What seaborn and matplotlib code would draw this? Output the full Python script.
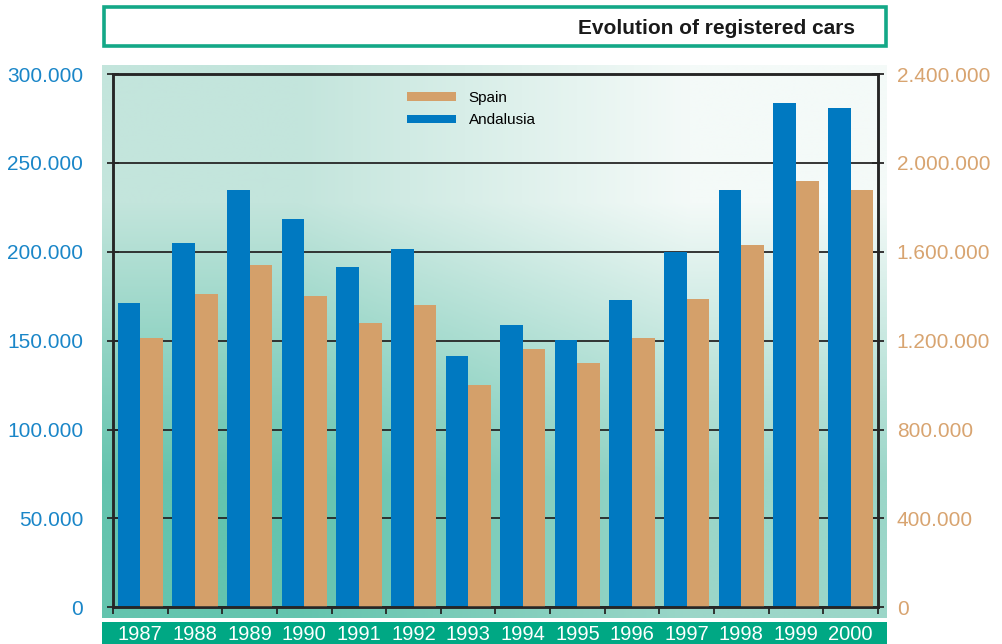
import numpy as np
import pandas as pd
import matplotlib
matplotlib.use("Agg")
import matplotlib.pyplot as plt
import seaborn as sns
from matplotlib.patches import Rectangle, Patch
from matplotlib.ticker import FuncFormatter, FixedLocator

# ---------------- data ----------------
years = ["1987", "1988", "1989", "1990", "1991", "1992", "1993",
         "1994", "1995", "1996", "1997", "1998", "1999", "2000"]
andalusia = [171300, 205100, 234900, 218600, 191300, 201400, 141400,
             158800, 150200, 172700, 199900, 234900, 283500, 281000]
spain = [1210000, 1410000, 1539000, 1399000, 1279000, 1359000, 1000000,
         1161000, 1101000, 1210000, 1389000, 1629000, 1920000, 1879000]
left_ticks = [0, 50000, 100000, 150000, 200000, 250000, 300000]
right_ticks = [0, 400000, 800000, 1200000, 1600000, 2000000, 2400000]
title = "Evolution of registered cars"
series_names = ["Andalusia", "Spain"]

BLUE = "#0079c1"
TAN = "#d4a06a"
BLUE_TXT = "#1a86c8"
TAN_TXT = "#d8a470"
GREEN = "#00a884"
DARK = "#262626"

plt.rcParams["font.family"] = ["Liberation Sans", "DejaVu Sans"]

W, H = 1003, 644
fig = plt.figure(figsize=(W / 100, H / 100), dpi=100)

def fx(px):
    return px / W

def fy(py):
    return 1 - py / H

# gradient background
bg = fig.add_axes([fx(102.3), fy(617.7), fx(886.7 - 102.3), (617.7 - 65) / H], zorder=0)
corners = np.array([
    [[0xc3, 0xe5, 0xdc], [0xf4, 0xfa, 0xf8]],   # top-left, top-right
    [[0x64, 0xc4, 0xae], [0x9b, 0xd6, 0xc8]],   # bottom-left, bottom-right
]) / 255.0
bg.imshow(corners, interpolation="bilinear", aspect="auto", extent=[0, 1, 0, 1])
bg.set_axis_off()

# green band under axis
fig.patches.append(Rectangle((fx(102.3), 0), fx(886.7 - 102.3), (644 - 621.7) / H,
                             transform=fig.transFigure, facecolor=GREEN,
                             edgecolor="none", zorder=0))

# title box
fig.patches.append(Rectangle((fx(104.5), fy(45.5)), fx(885.5 - 104.5), (45.5 - 7) / H,
                             transform=fig.transFigure, facecolor="white",
                             edgecolor="#14a887", linewidth=2.6, zorder=1))
fig.text(fx(855), fy(28.5), title, ha="right", va="center", fontsize=15,
         fontweight="bold", color="#1a1a1a")

# main axes
ax = fig.add_axes([fx(113), fy(607.3), fx(878 - 113), (607.3 - 74) / H], zorder=2)
ax.patch.set_visible(False)

df_a = pd.DataFrame({"year": years, "value": andalusia, "region": "Andalusia"})
df_s = pd.DataFrame({"year": years, "value": spain, "region": "Spain"})
pal = {"Andalusia": BLUE, "Spain": TAN}

sns.barplot(data=df_a, x="year", y="value", hue="region", hue_order=series_names,
            palette=pal, dodge=True, width=0.83, legend=False, ax=ax,
            saturation=1, linewidth=0, zorder=2)
ax2 = ax.twinx()
sns.barplot(data=df_s, x="year", y="value", hue="region", hue_order=series_names,
            palette=pal, dodge=True, width=0.83, legend=False, ax=ax2,
            saturation=1, linewidth=0, zorder=2)

for a in (ax, ax2):
    a.set_xlim(-0.5, len(years) - 0.5)
    a.set_xlabel("")
    a.set_ylabel("")
ax.set_ylim(0, 300000)
ax2.set_ylim(0, 2400000)

fmt = FuncFormatter(lambda v, p: f"{int(round(v)):,}".replace(",", "."))
ax.yaxis.set_major_locator(FixedLocator(left_ticks))
ax.yaxis.set_major_formatter(fmt)
ax2.yaxis.set_major_locator(FixedLocator(right_ticks))
ax2.yaxis.set_major_formatter(fmt)

ax.set_axisbelow(True)
ax.grid(axis="y", color=DARK, linewidth=1.3)
ax.grid(axis="x", visible=False)
ax2.grid(False)

ax.tick_params(axis="y", direction="inout", length=9, width=1.3, color=DARK,
               labelsize=15, labelcolor=BLUE_TXT, pad=17)
ax2.tick_params(axis="y", direction="inout", length=9, width=1.3, color=DARK,
                labelsize=15, labelcolor=TAN_TXT, pad=9)

# x axis: year labels at centres, ticks at boundaries
ax.set_xticks(range(len(years)))
ax.set_xticklabels(years)
ax.tick_params(axis="x", which="major", length=0, labelsize=14.5,
               labelcolor="white", pad=12.5)
ax.set_xticks(np.arange(-0.5, len(years), 1.0), minor=True)
ax.tick_params(axis="x", which="minor", direction="out", length=5, width=1.3, color=DARK)

for a in (ax, ax2):
    for s in a.spines.values():
        s.set_color(DARK)
        s.set_linewidth(1.8)

# legend
handles = [Patch(facecolor=TAN, edgecolor="none", label="Spain"),
           Patch(facecolor=BLUE, edgecolor="none", label="Andalusia")]
fig.legend(handles=handles, loc="upper left",
           bbox_to_anchor=(fx(406.7), fy(91)), frameon=False, fontsize=11,
           borderpad=0, borderaxespad=0, handlelength=3.2, handleheight=0.45,
           handletextpad=0.85, labelspacing=0.55)

fig.savefig("out.png", dpi=100)
